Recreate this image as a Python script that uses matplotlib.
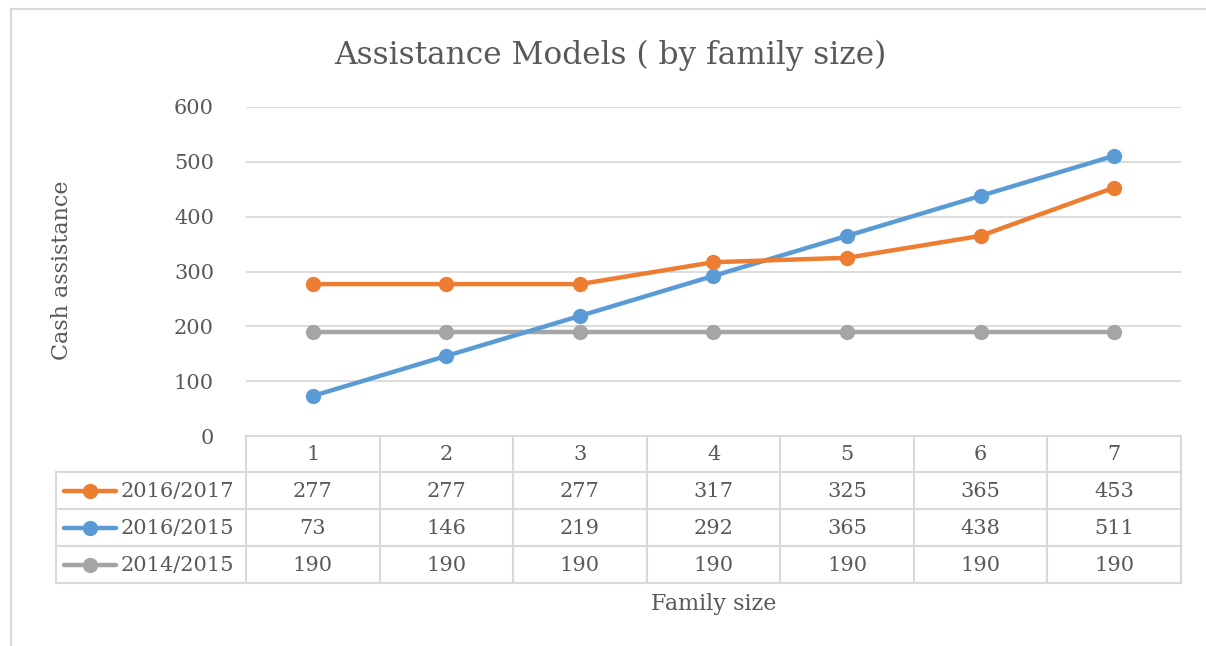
import matplotlib.pyplot as plt
import numpy as np

plt.rcParams['font.family'] = ['DejaVu Serif']

family_size = [1, 2, 3, 4, 5, 6, 7]
series_names = ["2016/2017", "2016/2015", "2014/2015"]
v_2016_2017 = [277, 277, 277, 317, 325, 365, 453]
v_2016_2015 = [73, 146, 219, 292, 365, 438, 511]
v_2014_2015 = [190, 190, 190, 190, 190, 190, 190]
colors = ["#ED7D31", "#5B9BD5", "#A5A5A5"]
yticks = [0, 100, 200, 300, 400, 500, 600]

W, H = 1206, 646
txt = "#595959"
grid = "#D9D9D9"

fig = plt.figure(figsize=(W / 100, H / 100), dpi=100)

# overlay in pixel coordinates (y down) for border and data table
ov = fig.add_axes([0, 0, 1, 1])
ov.set_xlim(0, W)
ov.set_ylim(H, 0)
ov.axis("off")

# plot area
x0, x1 = 246, 1181
ytop, ybot = 107, 436
ax = fig.add_axes([x0 / W, 1 - ybot / H, (x1 - x0) / W, (ybot - ytop) / H])
ax.set_xlim(0.5, 7.5)
ax.set_ylim(0, 600)
data = [v_2016_2017, v_2016_2015, v_2014_2015]
for vals, c in zip(data[::-1], colors[::-1]):
    ax.plot(family_size, vals, color=c, lw=3.2, marker="o", ms=10,
            solid_capstyle="round", zorder=3)
ax.set_yticks(yticks)
ax.set_yticklabels([str(t) for t in yticks], fontsize=15, color=txt)
ax.tick_params(axis="y", length=0, pad=23)
ax.set_xticks([])
ax.grid(axis="y", color=grid, lw=1.3)
ax.set_axisbelow(True)
for s in ax.spines.values():
    s.set_visible(False)
ax.patch.set_alpha(0)

# outer border
ov.plot([11, 11], [9, H], color=grid, lw=1.5)
ov.plot([11, W], [9, 9], color=grid, lw=1.5)

# data table
cw = (x1 - x0) / len(family_size)
rows = [436, 472, 509, 546, 583]
lx = 56
lw_t = 1.5
ov.plot([x0, x1], [rows[0], rows[0]], color=grid, lw=lw_t)
for r in rows[1:]:
    ov.plot([lx, x1], [r, r], color=grid, lw=lw_t)
for k in range(len(family_size) + 1):
    ov.plot([x0 + k * cw] * 2, [rows[0], rows[-1]], color=grid, lw=lw_t)
ov.plot([lx, lx], [rows[1], rows[-1]], color=grid, lw=lw_t)

for k, fs in enumerate(family_size):
    cx = x0 + (k + 0.5) * cw
    ov.text(cx, (rows[0] + rows[1]) / 2 + 1, str(fs), ha="center", va="center",
            fontsize=15, color=txt)
    for i, vals in enumerate(data):
        ov.text(cx, (rows[i + 1] + rows[i + 2]) / 2 + 1, str(vals[k]),
                ha="center", va="center", fontsize=15, color=txt)

for i, (name, c) in enumerate(zip(series_names, colors)):
    cy = (rows[i + 1] + rows[i + 2]) / 2
    ov.plot([64, 116], [cy, cy], color=c, lw=3.2, solid_capstyle="round")
    ov.plot([90], [cy], marker="o", ms=10, color=c)
    ov.text(121, cy + 1, name, ha="left", va="center", fontsize=15, color=txt)

# titles
ov.text(610, 55, "Assistance Models ( by family size)", ha="center", va="center",
        fontsize=22.5, color=txt)
ov.text(62, 270, "Cash assistance", ha="center", va="center", rotation=90,
        fontsize=16, color=txt)
ov.text(714, 604, "Family size", ha="center", va="center", fontsize=16, color=txt)

fig.savefig("out.png", dpi=100)
